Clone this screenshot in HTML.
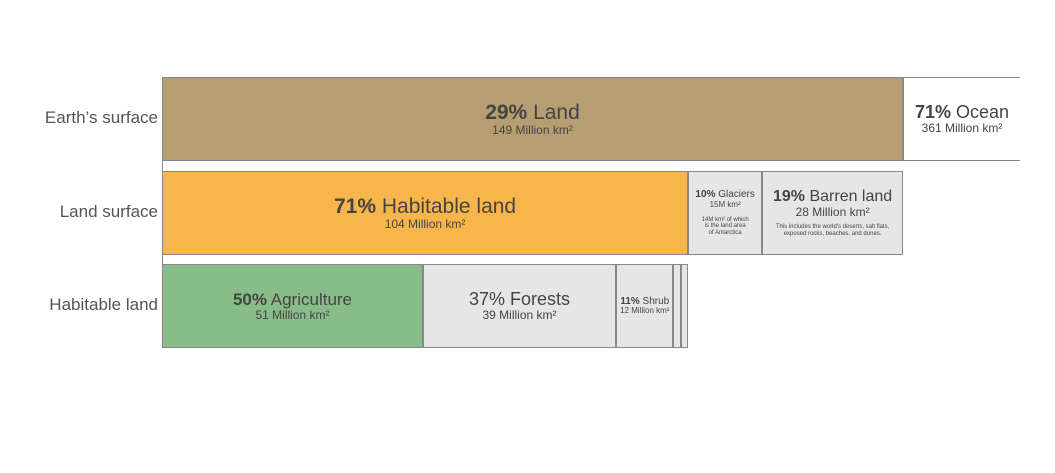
<!DOCTYPE html>
<html><head><meta charset="utf-8"><style>
body{margin:0;width:1055px;height:473px;background:#fff;font-family:"Liberation Sans",sans-serif;position:relative;overflow:hidden}
.seg{position:absolute;box-sizing:border-box;border:1.5px solid #888;display:flex;flex-direction:column;align-items:center;justify-content:center;text-align:center;color:#444;line-height:1.05}
.lab{position:absolute;font-size:17px;color:#555;text-align:right;width:158px;left:0}
.t{white-space:nowrap}
</style></head><body>
<div id="root"></div>
<script>
const rows=["Earth’s surface","Land surface","Habitable land"];
const rowTops=[77,171,264];
const earthValues=[29];
const landValues=[71,10,19];
const habValues=[50,37,11,1.4,1.4];
const X0=162, FULL=741, H=84;
const root=document.getElementById('root');
function mk(x,y,w,h,bg,html,name,extra){
  const d=document.createElement('div');d.className='seg';
  
  
  d.style.cssText=`left:${x}px;top:${y}px;width:${w}px;height:${h}px;background:${bg};`+(extra||'');
  d.innerHTML=html;root.appendChild(d);return d;
}
rows.forEach((r,i)=>{const l=document.createElement('div');l.className='lab';


l.style.top=(rowTops[i]+H/2-11)+'px';l.textContent=r;document.body.appendChild(l);});
// earth
mk(X0,rowTops[0],FULL,H,'#b69d72','<div class="t" style="font-size:21px"><b>29%</b> Land</div><div style="font-size:12px">149 Million km²</div>','bar-land');
mk(X0+FULL,rowTops[0],117,H,'#fff','<div class="t" style="font-size:18px"><b>71%</b> Ocean</div><div style="font-size:12px">361 Million km²</div>','bar-ocean','border-left:1.5px solid #888;border-right:none;');
mk(X0,rowTops[0]+H,FULL,10,'#fff','','gap-line','border-top:none;border-bottom:none;border-right:none;');
function row(vals,width,top,specs){
  const tot=vals.reduce((a,b)=>a+b,0);let x=X0;
  vals.forEach((v,i)=>{const w=v/tot*width;const s=specs[i];mk(x,top,w,i<3?H:H,s[0],s[1],s[2]);x+=w;});
  return x;
}
const landW=row(landValues,FULL,rowTops[1],[
 ['#f8b54c','<div class="t" style="font-size:21px"><b>71%</b> Habitable land</div><div style="font-size:12px">104 Million km²</div>','bar-habitable'],
 ['#e6e6e6','<div class="t" style="font-size:10px"><b>10%</b> Glaciers</div><div style="font-size:8px">15M km²</div><div style="font-size:6px;margin-top:8px">14M km² of which<br>is the land area<br>of Antarctica</div>','bar-glaciers'],
 ['#e6e6e6','<div class="t" style="font-size:16px"><b>19%</b> Barren land</div><div style="font-size:12px">28 Million km²</div><div style="font-size:6px;margin-top:6px">This includes the world\'s deserts, salt flats,<br>exposed rocks, beaches, and dunes.</div>','bar-barren']]);
const habW=landValues[0]/landValues.reduce((a,b)=>a+b,0)*FULL;
mk(X0,rowTops[1]+H,habW,11,'#fff','','gap-line-2','border-top:none;border-bottom:none;border-right:none;');
row(habValues,habW,rowTops[2],[
 ['#88bc88','<div class="t" style="font-size:17px"><b>50%</b> Agriculture</div><div style="font-size:12px">51 Million km²</div>','bar-agriculture'],
 ['#e6e6e6','<div class="t" style="font-size:18px">37% Forests</div><div style="font-size:12px">39 Million km²</div>','bar-forests'],
 ['#e6e6e6','<div class="t" style="font-size:10px"><b>11%</b> Shrub</div><div style="font-size:8px">12 Million km²</div>','bar-shrub'],
 ['#e6e6e6','','bar-freshwater'],['#e6e6e6','','bar-urban']]);
</script>
</body></html>
